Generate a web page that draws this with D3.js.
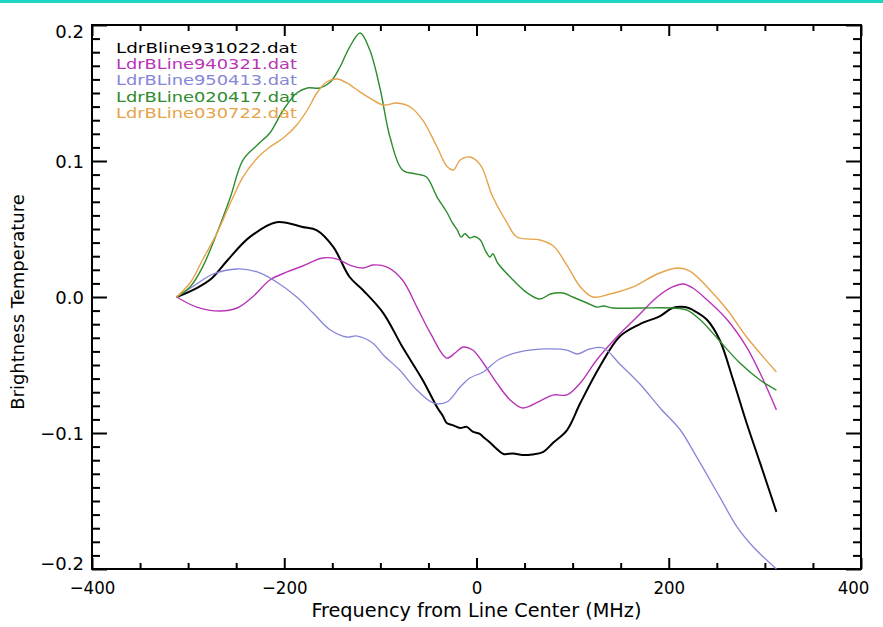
<!DOCTYPE html>
<html>
<head>
<meta charset="utf-8">
<script src="https://cdn.jsdelivr.net/npm/d3@7"></script>
<style>
  html, body { margin: 0; padding: 0; background: #fff; }
  svg { display: block; }
</style>
</head>
<body>
<svg id="chart" width="883" height="627"></svg>
<script>
// Brightness temperature spectra from five LdrBline data files

const seriesNames = [
  "LdrBline931022.dat",
  "LdrBLine940321.dat",
  "LdrBLine950413.dat",
  "LdrBLine020417.dat",
  "LdrBLine030722.dat"
];

const freq931022 = [-312, -291, -275, -259, -236, -208, -181, -166, -149, -132, -118, -97, -77, -56, -41, -35, -31, -24, -17, -10, -4, 3, 8, 14, 20, 28, 38, 48, 58, 69, 80, 94, 108, 128, 149, 170, 191, 204, 217, 227, 240, 253, 267, 281, 295, 312];
const tb931022   = [0, 0.0066, 0.014, 0.027, 0.044, 0.055, 0.0515, 0.049, 0.0368, 0.0147, 0.005, -0.0118, -0.0368, -0.061, -0.081, -0.0875, -0.0926, -0.0945, -0.0963, -0.0955, -0.099, -0.1005, -0.1035, -0.107, -0.111, -0.1154, -0.1150, -0.1162, -0.1158, -0.114, -0.107, -0.098, -0.078, -0.0515, -0.029, -0.0199, -0.014, -0.0081, -0.0074, -0.0103, -0.0169, -0.0316, -0.061, -0.0926, -0.122, -0.158];

const freq940321 = [-312, -291, -267, -249, -233, -215, -197, -181, -160, -145, -132, -118, -108, -93, -77, -62, -48, -31, -22, -14, -4, 7, 21, 35, 48, 66, 80, 94, 108, 125, 146, 167, 188, 204, 215, 225, 240, 261, 281, 295, 312];
const tb940321   = [0, -0.0074, -0.0103, -0.0081, 0, 0.0125, 0.0184, 0.0228, 0.0287, 0.0279, 0.0235, 0.0213, 0.0235, 0.022, 0.0125, -0.0074, -0.0265, -0.0449, -0.041, -0.0368, -0.039, -0.0485, -0.0632, -0.0757, -0.0816, -0.0765, -0.072, -0.072, -0.0632, -0.0463, -0.0294, -0.0147, 0, 0.0074, 0.0096, 0.0066, -0.0022, -0.0169, -0.0368, -0.0559, -0.083];

const freq950413 = [-312, -291, -274, -249, -228, -208, -187, -170, -152, -135, -124, -108, -97, -80, -62, -45, -31, -17, -7, 7, 24, 45, 73, 94, 105, 118, 132, 149, 170, 191, 212, 229, 253, 271, 288, 312];
const tb950413   = [0, 0.0096, 0.0169, 0.0206, 0.0184, 0.011, 0, -0.0118, -0.0243, -0.0294, -0.0287, -0.0338, -0.0426, -0.0537, -0.0684, -0.0779, -0.0772, -0.0662, -0.0596, -0.0551, -0.0456, -0.0404, -0.0382, -0.039, -0.0419, -0.0382, -0.0375, -0.0493, -0.064, -0.0816, -0.0978, -0.1176, -0.147, -0.169, -0.1838, -0.2];

const freq020417 = [-312, -298, -285, -270, -256, -243, -228, -215, -201, -187, -176, -163, -152, -142, -132, -121, -111, -100, -90, -77, -62, -52, -41, -31, -25, -20, -16, -12, -7, -2, 4, 9, 14, 17, 22, 35, 53, 66, 77, 90, 100, 115, 125, 132, 142, 170, 204, 219, 233, 253, 274, 295, 312];
const tb020417   = [0, 0.0074, 0.022, 0.047, 0.0735, 0.1007, 0.1118, 0.1206, 0.1375, 0.15, 0.1537, 0.1537, 0.1581, 0.1691, 0.1838, 0.1941, 0.1816, 0.1522, 0.1176, 0.0934, 0.0904, 0.0882, 0.0735, 0.0625, 0.0545, 0.0493, 0.0441, 0.0465, 0.0434, 0.0445, 0.0419, 0.0345, 0.0294, 0.0318, 0.025, 0.0147, 0.0029, -0.0015, 0.0022, 0.0029, 0, -0.0044, -0.0074, -0.0066, -0.0081, -0.0081, -0.0081, -0.0096, -0.0169, -0.0324, -0.0485, -0.061, -0.0684];

const freq030722 = [-312, -298, -285, -270, -256, -243, -228, -215, -201, -187, -176, -166, -156, -145, -135, -121, -111, -97, -83, -69, -56, -41, -31, -24, -17, -7, 4, 17, 32, 42, 66, 80, 94, 108, 121, 139, 163, 188, 209, 222, 240, 261, 281, 312];
const tb030722   = [0, 0.0103, 0.0272, 0.047, 0.0691, 0.0882, 0.1022, 0.1103, 0.1169, 0.1265, 0.1375, 0.15, 0.1581, 0.1603, 0.1574, 0.1507, 0.1463, 0.1412, 0.1426, 0.1397, 0.1301, 0.1103, 0.0963, 0.0934, 0.1007, 0.1029, 0.0971, 0.0735, 0.0544, 0.0441, 0.0419, 0.0375, 0.0235, 0.0074, 0, 0.0022, 0.0074, 0.0169, 0.0213, 0.0191, 0.0074, -0.0096, -0.0294, -0.0551];

const seriesFreqs = [freq931022, freq940321, freq950413, freq020417, freq030722];
const seriesTemps = [tb931022, tb940321, tb950413, tb020417, tb030722];
const seriesColors = ["#000000", "#b835b8", "#8686d8", "#2e8b2e", "#e6a34a"];
const seriesWidths = [2, 1.4, 1.3, 1.4, 1.4];

const xTickLabels = [-400, -200, 0, 200, 400];
const yTickLabels = [-0.2, -0.1, 0.0, 0.1, 0.2];

const xTitle = "Frequency from Line Center (MHz)";
const yTitle = "Brightness Temperature";

// plot frame
const plotLeft = 92, plotRight = 861, plotTop = 25, plotBottom = 569;

const svg = d3.select("#chart");

// thin accent band across the top of the page
svg.append("rect").attr("x", 0).attr("y", 0).attr("width", 883).attr("height", 3).attr("fill", "#1dd5c3");

const x = d3.scaleLinear().domain([-400, 400]).range([plotLeft, plotRight]);
const y = d3.scaleLinear().domain([-0.2, 0.2]).range([plotBottom, plotTop]);

const xMinor = d3.range(-400, 401, 50).filter(v => !xTickLabels.includes(v));
const yMinor = d3.range(-20, 21, 1).map(v => v / 100).filter(v => Math.abs(v * 10 - Math.round(v * 10)) > 1e-6);

const xMaj = 11, xMin = 6, yMaj = 15, yMin = 8;

function styleAxis(g) {
  g.select(".domain").remove();
  g.selectAll(".tick line").attr("stroke", "#000").attr("stroke-width", 2);
}

// bottom
svg.append("g").attr("transform", `translate(0,${plotBottom})`)
  .call(d3.axisBottom(x).tickValues(xTickLabels).tickSize(-xMaj).tickPadding(12)
    .tickFormat(d => d < 0 ? "\u2212" + Math.abs(d) : String(d)))
  .call(styleAxis)
  .call(g => g.selectAll("text")
    .attr("font-family", "'DejaVu Sans Condensed', 'DejaVu Sans', sans-serif")
    .attr("font-size", 18.5).attr("fill", "#000")
    .attr("dx", d => d === 400 ? -8 : 0));
svg.append("g").attr("transform", `translate(0,${plotBottom})`)
  .call(d3.axisBottom(x).tickValues(xMinor).tickSize(-xMin).tickFormat(""))
  .call(styleAxis);

// top
svg.append("g").attr("transform", `translate(0,${plotTop})`)
  .call(d3.axisTop(x).tickValues(xTickLabels).tickSize(-xMaj).tickFormat(""))
  .call(styleAxis);
svg.append("g").attr("transform", `translate(0,${plotTop})`)
  .call(d3.axisTop(x).tickValues(xMinor).tickSize(-xMin).tickFormat(""))
  .call(styleAxis);

// left
svg.append("g").attr("transform", `translate(${plotLeft},0)`)
  .call(d3.axisLeft(y).tickValues(yTickLabels).tickSize(-yMaj).tickPadding(8)
    .tickFormat(d => (d < 0 ? "\u2212" : "") + Math.abs(d).toFixed(1)))
  .call(styleAxis)
  .call(g => g.selectAll("text")
    .attr("font-family", "'DejaVu Sans', sans-serif")
    .attr("font-size", 18).attr("fill", "#000")
    .attr("dy", d => d === 0.2 ? "0.72em" : d === -0.2 ? "0.05em" : "0.36em"));
svg.append("g").attr("transform", `translate(${plotLeft},0)`)
  .call(d3.axisLeft(y).tickValues(yMinor).tickSize(-yMin).tickFormat(""))
  .call(styleAxis);

// right
svg.append("g").attr("transform", `translate(${plotRight},0)`)
  .call(d3.axisRight(y).tickValues(yTickLabels).tickSize(-yMaj).tickFormat(""))
  .call(styleAxis);
svg.append("g").attr("transform", `translate(${plotRight},0)`)
  .call(d3.axisRight(y).tickValues(yMinor).tickSize(-yMin).tickFormat(""))
  .call(styleAxis);

// frame
svg.append("rect")
  .attr("x", plotLeft).attr("y", plotTop)
  .attr("width", plotRight - plotLeft).attr("height", plotBottom - plotTop)
  .attr("fill", "none").attr("stroke", "#000").attr("stroke-width", 2);

// spectra
const line = d3.line()
  .x(d => x(d[0]))
  .y(d => y(d[1]))
  .curve(d3.curveCatmullRom.alpha(0.5));

seriesFreqs.forEach((fr, i) => {
  const pts = fr.map((f, j) => [f, seriesTemps[i][j]]);
  svg.append("path")
    .datum(pts)
    .attr("d", line)
    .attr("fill", "none")
    .attr("stroke", seriesColors[i])
    .attr("stroke-width", seriesWidths[i])
    .attr("stroke-linejoin", "round");
});

// legend: file names stacked tightly in the upper-left corner, stretched wide
const legend = svg.append("g");
seriesNames.forEach((name, i) => {
  legend.append("text")
    .attr("x", 116).attr("y", 53 + i * 16.2)
    .attr("font-family", "'DejaVu Sans', sans-serif")
    .attr("font-size", 13.8)
    .attr("textLength", 181)
    .attr("lengthAdjust", "spacingAndGlyphs")
    .attr("fill", seriesColors[i])
    .text(name);
});

// axis titles
svg.append("text")
  .attr("x", (plotLeft + plotRight) / 2).attr("y", 617)
  .attr("text-anchor", "middle")
  .attr("font-family", "'DejaVu Sans Condensed', 'DejaVu Sans', sans-serif")
  .attr("font-size", 19.5)
  .attr("textLength", 330)
  .attr("lengthAdjust", "spacingAndGlyphs")
  .attr("fill", "#000")
  .text(xTitle);

svg.append("text")
  .attr("transform", "translate(24,302) rotate(-90)")
  .attr("text-anchor", "middle")
  .attr("font-family", "'DejaVu Sans', sans-serif")
  .attr("font-size", 18)
  .attr("fill", "#000")
  .text(yTitle);
</script>
</body>
</html>
